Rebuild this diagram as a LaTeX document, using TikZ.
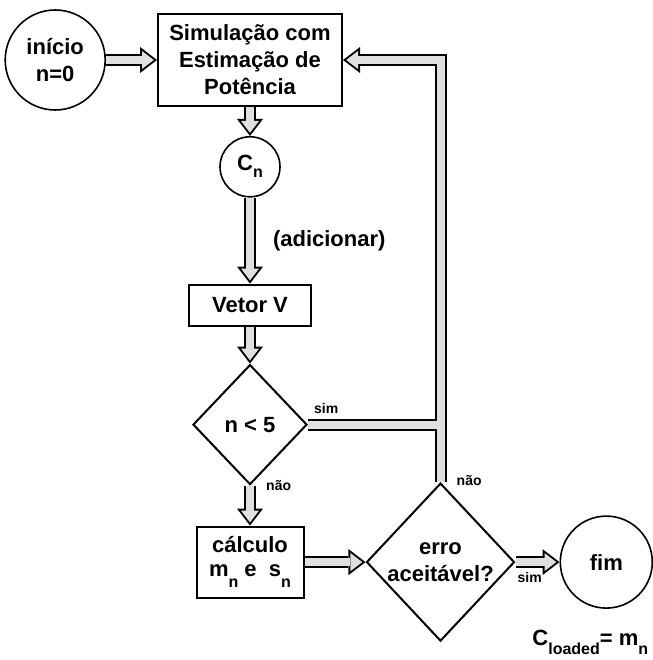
\documentclass[tikz,border=0pt]{standalone}
\usepackage{fontspec}
\setmainfont{Liberation Sans}
\usetikzlibrary{positioning,arrows.meta,shapes.geometric,backgrounds}
\definecolor{flowgrey}{HTML}{E0E0E0}
\newcommand{\lowsub}[2][8pt]{\raisebox{-#1}{\fontsize{16}{16}\selectfont #2}}

\begin{document}
\begin{tikzpicture}[x=1pt,y=-1pt,
  txt/.style={font=\bfseries\fontsize{22}{27}\selectfont,align=center,inner sep=0pt},
  box/.style={txt,draw,line width=2pt,fill=white},
  circ/.style={txt,circle,draw,line width=1.6pt,fill=white},
  decide/.style={txt,diamond,draw,line width=2pt,fill=white},
  lbl/.style={font=\bfseries\fontsize{14}{16}\selectfont,inner sep=0pt},
  fatout/.style={line width=12pt,-{Triangle[length=17pt,width=26pt,line width=0pt]}},
  fatin/.style={line width=8pt,flowgrey,shorten >=3.2pt,-{Triangle[length=11.8pt,width=18pt,line width=0pt]}},
  barout/.style={line width=12pt},
  barin/.style={line width=8pt,flowgrey}
]
\useasboundingbox (0,0) rectangle (652,660);
\node[box,minimum width=184pt,minimum height=92pt] (sim) at (250,60) {Simulação com\\Estimação de\\Potência};
\node[circ,minimum size=100pt,left=51pt of sim] (ini) {início\\n=0};
\node[circ,minimum size=60pt,below=29pt of sim] (cn) {C\lowsub[7pt]{n}};
\node[box,minimum width=122pt,minimum height=41pt,below=86pt of cn] (vet) {Vetor V};
\node[decide,minimum width=114pt,minimum height=120pt,below=37pt of vet] (nlt) {n < 5};
\node[box,minimum width=107pt,minimum height=71pt,below=40pt of nlt,font=\bfseries\fontsize{22}{24}\selectfont] (calc) {cálculo\\m\lowsub[11pt]{n} e\ \ s\lowsub[11pt]{n}};
\node[decide,minimum width=148pt,minimum height=158pt,right=61pt of calc] (erro) {erro\\aceitável?};
\node[circ,minimum size=92pt,right=44pt of erro] (fim) {fim};
\node[txt,below=21pt of fim,xshift=-16pt] (cload) {C\lowsub[9pt]{loaded}= m\lowsub[9pt]{n}};

\node[lbl,above right=11pt and 6pt of nlt.east] (simA) {sim};
\node[lbl,below right=-5pt and 16pt of nlt.south] (naoA) {não};
\node[lbl,right=16pt of erro.north,yshift=2pt] (naoB) {não};
\node[lbl,below right=10pt and 2pt of erro.east] (simB) {sim};

\begin{scope}[on background layer]
\draw[fatout] (ini) -- (sim);
\draw[fatout] (sim) -- (cn);
\draw[fatout] (cn) -- node[txt,right=17pt] (add) {(adicionar)} (vet);
\draw[fatout] (vet) -- (nlt);
\draw[fatout] (nlt) -- (calc);
\draw[fatout] (calc) -- (erro);
\draw[fatout] (erro) -- (fim);
\draw[fatout] (erro.north) |- (sim.east);
\draw[barout] (nlt.east) -- (nlt.east -| erro.north);
\draw[fatin] (ini) -- (sim);
\draw[fatin] (sim) -- (cn);
\draw[fatin] (cn) -- (vet);
\draw[fatin] (vet) -- (nlt);
\draw[fatin] (nlt) -- (calc);
\draw[fatin] (calc) -- (erro);
\draw[fatin] (erro) -- (fim);
\draw[fatin] (erro.north) |- (sim.east);
\draw[barin] (nlt.east) -- (nlt.east -| erro.north);
\end{scope}
\end{tikzpicture}
\end{document}
